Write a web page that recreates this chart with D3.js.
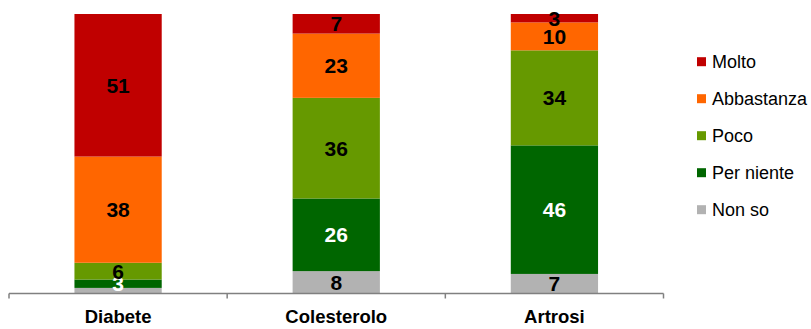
<!DOCTYPE html>
<html>
<head>
<meta charset="utf-8">
<script src="https://cdn.jsdelivr.net/npm/d3@7"></script>
<style>
  html, body { margin: 0; padding: 0; background: #fff; }
  svg { display: block; font-family: "Liberation Sans", Arial, sans-serif; }
</style>
</head>
<body>
<svg id="chart" width="811" height="329"></svg>
<script>
// Categories and answer levels (bottom to top of each stack)
const categories = ["Diabete", "Colesterolo", "Artrosi"];
const levels = ["Non so", "Per niente", "Poco", "Abbastanza", "Molto"];

// Percentages per level, one value per category
const nonSo      = [2, 8, 7];
const perNiente  = [3, 26, 46];
const poco       = [6, 36, 34];
const abbastanza = [38, 23, 10];
const molto      = [51, 7, 3];

// Whether each value gets a printed label (the smallest Diabete slice has none)
const showNonSo = [false, true, true];

const colors = {
  "Non so": "#B2B2B2",
  "Per niente": "#006600",
  "Poco": "#669900",
  "Abbastanza": "#FF6600",
  "Molto": "#C00000"
};
const labelColors = {
  "Non so": "#000",
  "Per niente": "#fff",
  "Poco": "#000",
  "Abbastanza": "#000",
  "Molto": "#000"
};

const seriesValues = {
  "Non so": nonSo,
  "Per niente": perNiente,
  "Poco": poco,
  "Abbastanza": abbastanza,
  "Molto": molto
};

// Rows for d3.stack
const rows = categories.map((c, i) => {
  const r = { category: c, index: i };
  levels.forEach(l => { r[l] = seriesValues[l][i]; });
  return r;
});

const svg = d3.select("#chart");

const x = d3.scaleBand()
  .domain(categories)
  .range([9, 663.5])
  .padding(0);

const y = d3.scaleLinear()
  .domain([0, 100])
  .range([293.5, 14]);

const barWidth = x.bandwidth() * 0.4;

const stacked = d3.stack().keys(levels)(rows);

const layers = svg.append("g")
  .selectAll("g")
  .data(stacked)
  .join("g")
  .attr("fill", d => colors[d.key]);

layers.selectAll("rect")
  .data(d => d.map(p => ({ key: d.key, p })))
  .join("rect")
  .attr("x", d => x(d.p.data.category) + (x.bandwidth() - barWidth) / 2)
  .attr("width", barWidth)
  .attr("y", d => y(d.p[1]))
  .attr("height", d => y(d.p[0]) - y(d.p[1]));

// Value labels centred in each segment
const labels = [];
stacked.forEach(layer => {
  layer.forEach(p => {
    const i = p.data.index;
    if (layer.key === "Non so" && !showNonSo[i]) return;
    labels.push({ key: layer.key, p, value: p.data[layer.key] });
  });
});

svg.append("g")
  .selectAll("text")
  .data(labels)
  .join("text")
  .attr("x", d => x(d.p.data.category) + x.bandwidth() / 2)
  .attr("y", d => (y(d.p[0]) + y(d.p[1])) / 2)
  .attr("dy", "0.36em")
  .attr("text-anchor", "middle")
  .attr("font-size", 21)
  .attr("font-weight", "bold")
  .attr("fill", d => labelColors[d.key])
  .text(d => d.value);

// Category axis
const axis = svg.append("g")
  .attr("transform", `translate(0,${y(0)})`);

axis.append("line")
  .attr("x1", x.range()[0])
  .attr("x2", x.range()[1])
  .attr("stroke", "#808080")
  .attr("stroke-width", 1.5);

const tickPos = categories.map(c => x(c)).concat([x.range()[1]]);
axis.selectAll("line.tick")
  .data(tickPos)
  .join("line")
  .attr("class", "tick")
  .attr("x1", d => d).attr("x2", d => d)
  .attr("y1", 0).attr("y2", 5)
  .attr("stroke", "#808080")
  .attr("stroke-width", 1.5);

axis.selectAll("text")
  .data(categories)
  .join("text")
  .attr("x", d => x(d) + x.bandwidth() / 2)
  .attr("y", 29)
  .attr("text-anchor", "middle")
  .attr("font-size", 18.5)
  .attr("font-weight", "bold")
  .attr("fill", "#000")
  .text(d => d);

// Legend (top to bottom: Molto first)
const legendOrder = levels.slice().reverse();
const legend = svg.append("g")
  .selectAll("g")
  .data(legendOrder)
  .join("g")
  .attr("transform", (d, i) => `translate(697,${61.7 + i * 37})`);

legend.append("rect")
  .attr("x", 0).attr("y", -4.5)
  .attr("width", 9).attr("height", 9)
  .attr("fill", d => colors[d]);

legend.append("text")
  .attr("x", 15)
  .attr("dy", "0.36em")
  .attr("font-size", 18)
  .attr("fill", "#000")
  .text(d => d);
</script>
</body>
</html>
